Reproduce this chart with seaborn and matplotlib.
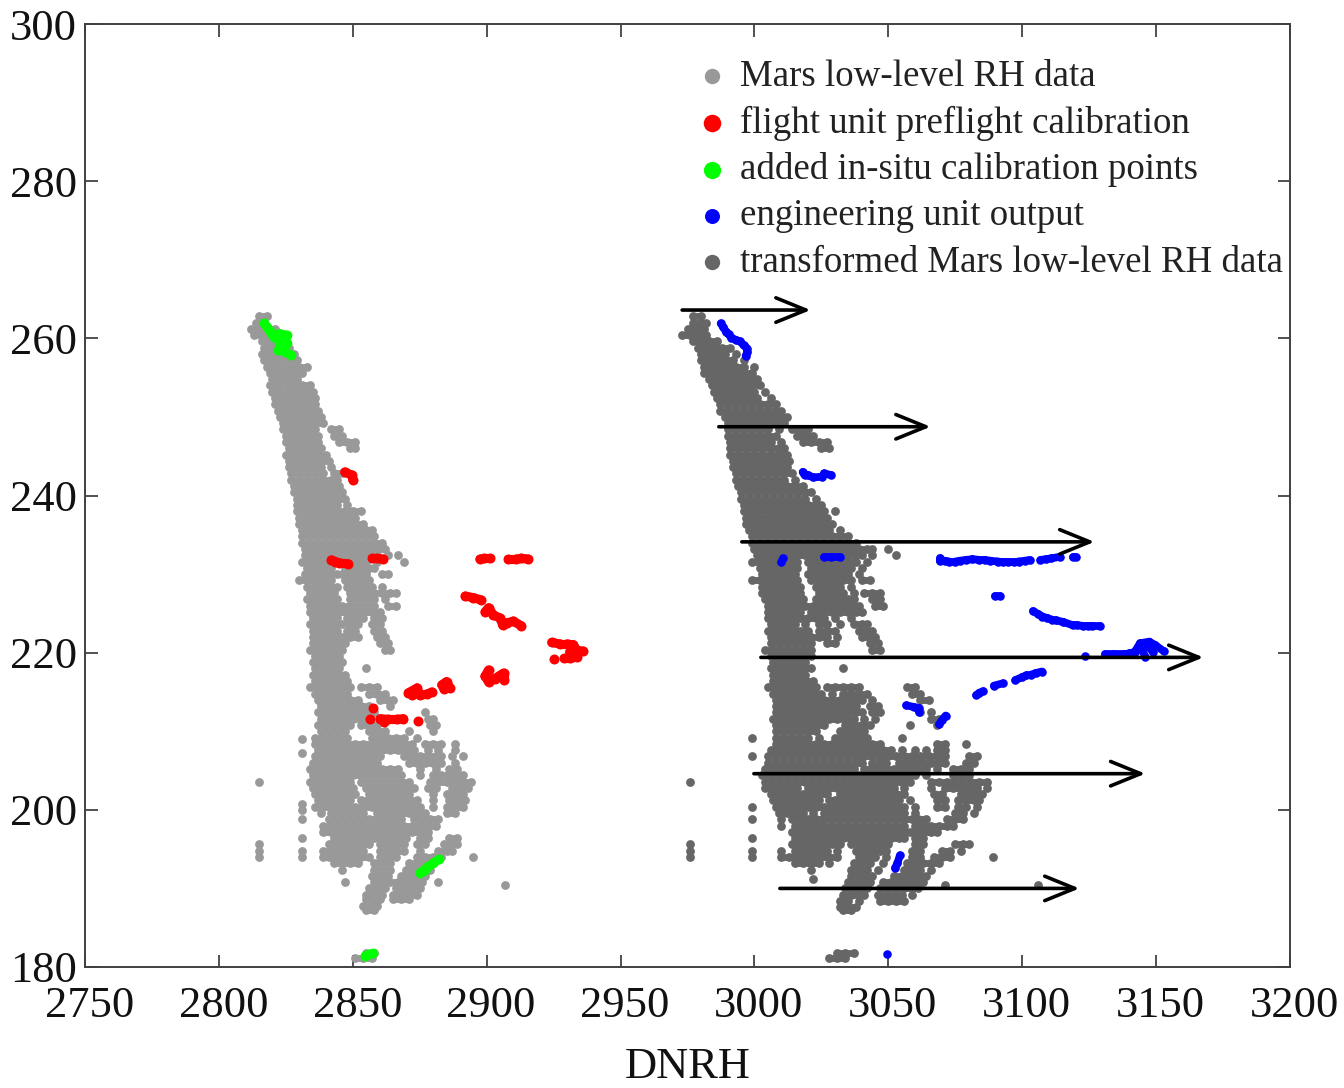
import matplotlib
matplotlib.use("Agg")
import matplotlib.pyplot as plt
from matplotlib.transforms import ScaledTranslation
import pandas as pd
import seaborn as sns

x_ticks = [2750, 2800, 2850, 2900, 2950, 3000, 3050, 3100, 3150, 3200]
y_ticks = [180, 200, 220, 240, 260, 280, 300]

# y level, then x readings at that level
gray_rows = [
(262.8,[2815,2818]),(262.0,[2814,2817]),(261.2,[2812,2815,2818,2821]),(260.4,[2813,2816,2819,2822]),
(259.6,[2816,2819,2822,2825]),(258.8,[2817,2820,2823,2826]),(258.0,[2816,2819,2822,2825,2828]),
(257.2,[2817,2820,2823,2826,2829]),(256.4,[2818,2821,2824,2827,2830,2833]),(255.6,[2819,2822,2825,2828,2831]),
(254.8,[2820,2823,2826,2829]),(254.0,[2819,2822,2825,2828,2831,2834]),(253.2,[2820,2823,2826,2829,2832,2835]),
(252.4,[2821,2824,2827,2830,2833,2836]),(251.6,[2821,2824,2827,2830,2833,2836]),(250.8,[2822,2825,2828,2831,2834,2837]),
(250.0,[2823,2826,2829,2832,2835,2838]),(249.2,[2824,2827,2830,2833,2836,2839]),
(248.4,[2824,2827,2830,2833,2836,2842,2845]),(247.6,[2825,2828,2831,2834,2837,2843,2846]),
(246.8,[2825,2828,2831,2834,2837,2845,2848,2851]),(246.0,[2826,2829,2832,2835,2838,2849,2851]),
(245.2,[2825,2828,2831,2834,2837,2840]),(244.4,[2826,2829,2832,2835,2838,2841]),(243.6,[2826,2829,2832,2835,2838,2842]),
(242.8,[2827,2830,2833,2836,2839,2843,2846]),(242.0,[2827,2830,2833,2836,2839,2842,2844]),
(241.2,[2828,2831,2834,2837,2840,2843,2845]),(240.4,[2828,2831,2834,2837,2840,2843,2846]),
(239.6,[2829,2832,2835,2838,2841,2844,2847]),(238.8,[2829,2832,2835,2838,2841,2844,2848]),
(238.0,[2829,2832,2835,2838,2841,2844,2847,2850,2853]),(237.2,[2830,2833,2836,2839,2842,2845,2848,2851]),
(236.4,[2830,2833,2836,2839,2842,2845,2848,2851,2854]),(235.6,[2831,2834,2837,2840,2843,2846,2849,2852,2855,2857]),
(234.8,[2831,2834,2837,2840,2843,2846,2849,2852,2855,2858]),(234.0,[2831,2834,2837,2840,2843,2846,2849,2852,2855,2858,2861]),
(233.2,[2832,2835,2838,2841,2844,2847,2850,2853,2856,2859,2862]),(232.4,[2832,2835,2838,2841,2844,2847,2850,2853,2856,2859,2863,2867]),
(231.6,[2831,2834,2837,2840,2843,2846,2849,2852,2855,2859,2869]),(230.8,[2833,2836,2839,2842,2847,2850,2853,2856,2858]),
(230.0,[2832,2835,2838,2841,2844,2846,2849,2852,2855,2861,2863]),(229.2,[2830,2833,2836,2839,2842,2847,2850,2853,2856]),
(228.4,[2833,2836,2839,2842,2844,2848,2851,2854,2857,2861]),(227.6,[2834,2837,2840,2843,2849,2852,2855,2858,2861,2864,2866]),
(226.8,[2833,2836,2839,2842,2844,2849,2852,2855,2858,2862]),(226.0,[2834,2837,2840,2843,2846,2849,2852,2855,2858,2863,2866]),
(225.2,[2834,2837,2840,2843,2845,2848,2851,2854,2857,2860]),(224.4,[2835,2838,2841,2844,2848,2851,2854,2858,2861]),
(223.6,[2834,2837,2840,2843,2846,2849,2852,2857,2860]),(222.8,[2835,2838,2841,2844,2848,2851,2858,2861]),
(222.0,[2835,2838,2841,2844,2846,2849,2852,2859,2862]),(221.2,[2835,2838,2841,2844,2847,2860,2863]),
(220.4,[2834,2837,2840,2843,2846,2862,2864]),(219.6,[2836,2839,2842,2845]),(218.8,[2835,2838,2841,2844,2846]),
(218.0,[2836,2839,2842,2845,2855]),(217.2,[2835,2838,2841,2844,2847]),(216.4,[2836,2839,2842,2845,2848]),
(215.6,[2834,2837,2840,2843,2846,2849,2853,2856,2859]),(214.8,[2836,2839,2842,2845,2848,2856,2859,2862]),
(214.0,[2837,2840,2843,2846,2849,2852,2860,2863,2865]),(213.2,[2838,2841,2844,2847,2850,2853,2856,2864]),
(212.4,[2837,2840,2843,2846,2849,2852,2855,2858,2877]),(211.6,[2838,2841,2844,2847,2850,2853,2856,2878,2880]),
(210.8,[2837,2840,2843,2846,2849,2853,2856,2859,2879,2881]),(210.0,[2838,2841,2844,2847,2856,2859,2862,2871,2880]),
(209.2,[2836,2839,2842,2845,2848,2857,2860,2863,2866,2869,2874]),(208.4,[2836,2839,2842,2845,2848,2851,2854,2857,2860,2863,2866,2869,2872,2877,2880,2883,2888]),
(207.6,[2837,2840,2843,2846,2849,2852,2855,2858,2861,2864,2867,2870,2873,2878,2882,2888]),
(206.8,[2836,2839,2842,2845,2848,2851,2854,2857,2860,2869,2872,2875,2878,2881,2883,2887,2891]),
(206.0,[2835,2838,2841,2844,2847,2850,2853,2856,2859,2871,2874,2877,2880,2883,2888]),
(205.2,[2834,2837,2840,2843,2846,2849,2852,2855,2858,2861,2864,2867,2875,2881,2886,2889]),
(204.4,[2835,2838,2841,2844,2847,2850,2853,2856,2859,2862,2865,2868,2875,2880,2883,2886,2889,2891]),
(203.6,[2834,2837,2840,2843,2846,2849,2853,2856,2859,2862,2865,2868,2871,2879,2882,2885,2888,2891,2894]),
(202.8,[2835,2838,2841,2844,2847,2850,2855,2858,2861,2864,2867,2870,2873,2878,2881,2887,2890,2893]),
(202.0,[2836,2839,2842,2845,2848,2851,2856,2859,2862,2865,2868,2871,2880,2885,2888,2891]),
(201.2,[2837,2840,2843,2846,2849,2853,2856,2859,2862,2865,2868,2871,2874,2880,2886,2889,2892]),
(200.4,[2836,2839,2842,2845,2848,2851,2854,2857,2860,2863,2866,2869,2872,2875,2880,2885,2888,2891]),
(199.6,[2838,2842,2845,2848,2851,2854,2859,2862,2865,2868,2871,2874,2877,2885,2888]),
(198.8,[2831,2841,2844,2847,2850,2853,2856,2859,2862,2865,2868,2873,2876,2879,2882]),
(198.0,[2839,2842,2845,2848,2851,2854,2857,2860,2863,2866,2869,2872,2875,2878,2881]),
(197.2,[2839,2842,2845,2848,2851,2854,2857,2860,2863,2866,2869,2872,2875,2878]),
(196.4,[2831,2843,2846,2849,2852,2855,2858,2861,2864,2867,2870,2875,2878,2886,2889]),
(195.6,[2815,2841,2844,2847,2850,2853,2856,2860,2863,2866,2869,2874,2877,2884,2887,2889]),
(194.8,[2815,2831,2839,2842,2845,2848,2851,2854,2860,2863,2866,2869,2875,2882,2885,2887]),
(194.0,[2815,2831,2839,2841,2844,2847,2850,2853,2856,2860,2863,2866,2874,2877,2880,2883,2895]),
(193.2,[2843,2846,2849,2852,2858,2861,2864,2871,2874,2877,2880]),(192.4,[2846,2858,2861,2864,2870,2873,2876,2879]),
(191.6,[2857,2860,2863,2868,2871,2874,2877]),(190.8,[2847,2858,2861,2864,2867,2870,2873,2876,2882]),
(190.4,[2907]),(190.0,[2856,2859,2862,2866,2869,2872,2875]),(189.2,[2855,2858,2861,2865,2868,2871,2874]),
(188.6,[2855,2858,2860,2865,2868,2871]),(187.8,[2854,2857,2859]),(187.2,[2855,2858]),
(181.8,[2855,2858]),(181.2,[2851,2854,2857]),
(209.0,[2831]),(207.2,[2831]),(203.5,[2815]),(200.7,[2831]),(200.0,[2831]),
]
dark_rows = [
(262.8,[2977,2980]),(262.0,[2977,2980,2982]),(261.2,[2975,2978,2981]),(260.4,[2973,2976,2979,2982]),
(259.6,[2977,2980,2983,2986]),(258.8,[2979,2982,2985,2988,2991]),(258.0,[2980,2983,2986,2989,2993]),
(257.2,[2980,2983,2986,2989,2992,2996]),(256.4,[2981,2984,2987,2990,2993,2996,3000]),(255.6,[2981,2984,2987,2990,2993,2996,2999]),
(254.8,[2983,2986,2989,2992,2995,2998,3001]),(254.0,[2984,2987,2990,2993,2996,2999,3002]),
(253.2,[2985,2988,2991,2994,2997,3000,3004]),(252.4,[2986,2989,2992,2995,2998,3001,3006]),
(251.6,[2987,2990,2993,2996,2999,3002,3005,3008]),(250.8,[2987,2990,2993,2996,2999,3002,3005,3008,3010]),
(250.0,[2989,2992,2995,2998,3001,3004,3007,3010,3012]),(249.2,[2990,2993,2996,2999,3002,3005,3008,3011]),
(248.4,[2990,2993,2996,2999,3002,3005,3009,3014,3017,3020]),(247.6,[2990,2993,2996,2999,3002,3005,3008,3016,3019,3022]),
(246.8,[2991,2994,2997,3000,3003,3006,3010,3018,3021,3024,3027]),(246.0,[2991,2994,2997,3000,3003,3006,3009,3011,3025,3028]),
(245.2,[2991,2994,2997,3000,3003,3006,3009,3012]),(244.4,[2992,2995,2998,3001,3004,3007,3010,3013]),
(243.6,[2992,2995,2998,3001,3004,3007,3010,3012]),(242.8,[2993,2996,2999,3002,3005,3008,3011,3014]),
(242.0,[2993,2996,2999,3002,3005,3008,3011,3015]),(241.2,[2994,2997,3000,3003,3006,3009,3012,3015,3018]),
(240.4,[2995,2998,3001,3004,3007,3010,3013,3016,3019,3021]),(239.6,[2995,2998,3001,3004,3007,3010,3013,3016,3019,3023]),
(238.8,[2996,2999,3002,3005,3008,3011,3014,3017,3020,3023,3025]),(238.0,[2996,2999,3002,3005,3008,3011,3014,3017,3020,3023,3026,3030]),
(237.2,[2997,3000,3003,3006,3009,3012,3015,3018,3021,3024,3027]),(236.4,[2997,3000,3003,3006,3009,3012,3015,3018,3021,3024,3027,3029]),
(235.6,[2998,3001,3004,3007,3010,3013,3016,3019,3022,3025,3028,3032]),(234.8,[2999,3002,3005,3008,3011,3014,3017,3020,3023,3026,3029,3032,3035]),
(234.0,[2999,3002,3005,3008,3011,3014,3017,3020,3023,3026,3029,3032,3035,3038]),
(233.2,[3000,3003,3006,3009,3012,3015,3018,3021,3024,3027,3030,3033,3036,3039,3042,3044,3050]),
(232.4,[3001,3004,3007,3010,3013,3016,3019,3022,3025,3028,3031,3034,3037,3040,3044,3053]),
(231.6,[2999,3002,3005,3008,3011,3014,3016,3020,3023,3026,3029,3032,3035,3038,3042]),
(230.8,[3002,3005,3008,3011,3014,3016,3021,3024,3027,3030,3033,3036,3040]),
(230.0,[3003,3006,3009,3012,3015,3020,3023,3026,3029,3032,3035,3039]),
(229.2,[2999,3002,3005,3008,3011,3014,3016,3021,3024,3027,3030,3033,3036,3040,3043]),
(228.4,[3003,3006,3009,3012,3015,3017,3023,3026,3029,3032,3036]),
(227.6,[3003,3006,3009,3012,3015,3017,3024,3027,3030,3033,3037,3041,3044,3047]),
(226.8,[3004,3007,3010,3013,3016,3018,3023,3026,3029,3032,3035,3037,3044,3047]),
(226.0,[3005,3008,3011,3014,3017,3019,3022,3025,3028,3031,3034,3037,3039,3045,3048]),
(225.2,[3005,3008,3011,3014,3017,3021,3023,3026,3029,3032,3035,3038,3040]),
(224.4,[3005,3008,3011,3014,3017,3020,3023,3026,3030,3036]),(223.6,[3006,3009,3012,3015,3019,3024,3027,3032,3037,3040,3042]),
(222.8,[3005,3008,3011,3014,3017,3020,3024,3027,3030,3039,3042,3044]),(222.0,[3006,3009,3012,3015,3018,3021,3024,3027,3031,3040,3043,3045]),
(221.2,[3006,3009,3012,3015,3018,3021,3027,3030,3043,3046]),(220.4,[3004,3007,3010,3013,3016,3019,3021,3044,3047]),
(219.6,[3006,3009,3012,3015,3018,3021]),(218.8,[3007,3010,3013,3016,3019]),(218.0,[3006,3009,3012,3015,3018,3021,3033]),
(217.2,[3007,3010,3013,3016,3019]),(216.4,[3007,3010,3013,3016,3019,3022]),
(215.6,[3005,3008,3011,3014,3017,3020,3023,3027,3030,3033,3036,3039,3057,3060]),
(214.8,[3007,3010,3013,3016,3019,3022,3025,3029,3033,3036,3039,3042,3059,3062]),
(214.0,[3008,3011,3014,3017,3020,3023,3026,3029,3032,3035,3038,3040,3044,3062,3065]),
(213.2,[3008,3011,3014,3017,3020,3023,3026,3029,3032,3035,3038,3043,3046]),
(212.4,[3008,3011,3014,3017,3020,3023,3026,3029,3032,3035,3038,3040,3044,3047,3062,3066]),
(211.6,[3007,3010,3013,3016,3019,3022,3025,3028,3031,3034,3037,3041,3045,3066,3069]),
(210.8,[3008,3011,3014,3017,3020,3023,3026,3034,3037,3040,3043,3058,3068]),
(210.0,[3008,3011,3014,3017,3020,3023,3032,3035,3038,3041]),
(209.2,[2999,3008,3011,3014,3017,3020,3024,3030,3033,3036,3039,3042,3055]),
(208.4,[3008,3011,3014,3017,3020,3023,3026,3029,3032,3035,3038,3041,3044,3047,3068,3071,3079]),
(207.6,[3006,3009,3012,3015,3018,3021,3024,3027,3030,3033,3036,3039,3042,3045,3048,3051,3055,3060,3064,3068,3071]),
(206.8,[2999,3005,3008,3011,3014,3017,3020,3023,3026,3029,3032,3035,3038,3041,3044,3047,3050,3053,3056,3059,3062,3065,3068,3071,3080,3083]),
(206.0,[3005,3008,3011,3014,3017,3020,3023,3026,3029,3032,3035,3038,3040,3044,3047,3049,3054,3057,3060,3063,3066,3069,3071,3079,3082]),
(205.2,[3004,3007,3010,3013,3016,3019,3022,3025,3028,3031,3034,3037,3041,3043,3046,3049,3052,3055,3058,3061,3064,3068,3074,3077,3080]),
(204.4,[3003,3006,3009,3012,3015,3018,3021,3024,3027,3030,3033,3036,3039,3042,3045,3048,3051,3054,3057,3060,3064,3074,3077,3080]),
(203.6,[3004,3007,3010,3013,3016,3019,3022,3025,3028,3031,3034,3037,3040,3043,3046,3049,3052,3055,3058,3066,3069,3072,3075,3078,3081,3084,3087,2976]),
(202.8,[3004,3007,3010,3013,3016,3020,3022,3025,3028,3031,3034,3037,3040,3043,3046,3049,3052,3056,3066,3071,3074,3077,3080,3083,3087]),
(202.0,[3006,3009,3012,3015,3018,3021,3024,3027,3032,3035,3038,3041,3044,3047,3050,3053,3056,3067,3070,3077,3080,3083,3085]),
(201.2,[3007,3010,3013,3016,3018,3021,3024,3028,3030,3033,3036,3039,3042,3045,3048,3051,3054,3058,3068,3071,3076,3079,3082,3084]),
(200.4,[2999,3008,3011,3014,3017,3020,3023,3026,3029,3032,3035,3038,3041,3044,3047,3050,3053,3056,3060,3068,3071,3076,3079,3083]),
(199.6,[3009,3012,3015,3018,3022,3026,3029,3032,3035,3038,3041,3044,3047,3050,3053,3056,3060,3075,3078,3082]),
(198.8,[2999,3010,3014,3017,3020,3023,3026,3029,3032,3035,3038,3041,3044,3047,3050,3053,3056,3059,3061,3064,3072,3075,3078]),
(198.0,[3010,3015,3018,3021,3024,3026,3029,3032,3035,3038,3041,3044,3047,3050,3053,3056,3060,3063,3066,3069,3072,3074]),
(197.2,[3014,3017,3020,3023,3026,3029,3032,3035,3038,3041,3044,3047,3050,3053,3056,3058,3060,3063,3066,3068]),
(196.4,[2999,3015,3018,3021,3024,3027,3030,3033,3036,3039,3042,3045,3048,3051,3054,3056,3060,3063]),
(195.6,[2976,3014,3017,3020,3023,3026,3029,3032,3036,3039,3042,3045,3048,3050,3060,3063,3075,3078,3080]),
(194.8,[2976,2999,3010,3015,3018,3021,3024,3027,3031,3038,3041,3044,3047,3049,3059,3062,3070,3073,3077]),
(194.0,[2976,2999,3010,3013,3016,3019,3022,3025,3028,3031,3039,3042,3045,3049,3059,3062,3067,3070,3073,3089]),
(193.2,[3015,3018,3021,3024,3028,3037,3040,3043,3048,3057,3060,3063,3066,3069]),
(192.4,[3021,3036,3039,3042,3046,3056,3059,3062,3066]),(191.6,[3036,3039,3042,3044,3052,3055,3058,3061,3064]),
(191.2,[3022]),(190.8,[3035,3038,3041,3043,3048,3051,3054,3057,3060,3063]),(190.4,[3071,3106]),
(190.0,[3034,3037,3040,3042,3047,3050,3053,3056,3059,3061]),(189.2,[3033,3036,3039,3041,3046,3049,3052,3055,3059]),
(188.4,[3032,3035,3039,3047,3050,3053,3056]),(187.6,[3032,3035,3038]),(187.2,[3033,3036]),
(181.8,[3031,3034,3037]),(181.2,[3028,3031,3034]),
]
red_x = [2847,2849.6,2850,2842,2845,2848.4,2843.5,2857,2859,2861.4,2897.5,2899,2901.3,2908,2911,2913,2915.6,
2892,2895,2898,2899.4,2900.7,2902.5,2905,2906,2907.5,2910,2913,2924.3,2927.4,2930,2932.4,2933.6,2936,2925,2928.7,2931,2933.6,
2931,2900.7,2899.4,2900.7,2903,2906.3,2906.3,2870.8,2874,2875,2877.6,2879.5,2872,2883.2,2885,2886.3,2884,
2857.5,2856.5,2860.2,2863.3,2866.4,2868.9,2861.5,2874.3]
red_y = [243,242.6,242,231.8,231.4,231.3,231.6,232,232,231.9,231.9,232,232,231.9,231.9,232,231.9,
227.2,227,226.7,225.2,225.7,224.8,224.4,223.5,223.8,224,223.4,221.3,221.1,221.1,221,220.3,220.2,219.2,219.3,219.3,219.4,
220.1,217.8,217,216.3,216.7,217.4,216.5,214.9,215.5,214.6,214.7,215,214.6,215.9,216.3,215.5,215.4,
212.9,211.6,211.6,211.5,211.5,211.6,211.2,211.3]
green_x = [2817,2818,2819,2820.4,2822.8,2825.3,2822.5,2825.3,2822.2,2824.7,2826.8,2875,2877,2878.2,2880,2882.2,2854.6,2856,2857.7]
green_y = [261.9,261.4,260.9,260.2,260.6,260.4,259.4,259.4,258.5,258.3,257.9,192,192.4,192.8,193.2,193.7,181.4,181.6,181.75]
blue_x = [2987.4,2988.4,2989.4,2990.4,2991.4,2993,2994.7,2996,2997.4,2997.4,2996.7,3018,3018.7,3020,3022,3025.4,3026,3028.7,
3010.7,3010,3026,3028.7,3032,3069.4,3069.4,3071,3072.8,3075,3076.8,3079,3081.4,3084,3086,3088,3090.8,3093,3094.8,3097,3098.8,3101,3102.8,3106.8,3109,3110.8,3114,3118.8,3120,
3089.8,3091.7,3104,3106,3107.5,3109.4,3111,3112.8,3115.4,3118.8,3120.5,3122.8,3124.5,3126,3129.2,
3123.5,3130.8,3134.4,3138,3140,3142,3144,3147.5,3149.5,3152.8,3146,3144.8,3148.8,3147,
3107.4,3105,3103.4,3101.5,3100,3097.4,3092.8,3089.4,3085.4,3084,3082.8,
3056.7,3059.4,3061.4,3061.4,3071.4,3070,3069,3054.3,3053.4,3052.5,3049.4]
blue_y = [261.9,261.4,260.85,260.5,260.1,259.8,259.6,259.1,258.7,258.2,257.8,243,242.6,242.6,242.3,242.4,242.8,242.6,
232,231.5,232.2,232.2,232.2,232,231.7,231.7,231.6,231.6,231.7,231.8,231.9,231.8,231.8,231.7,231.6,231.5,231.5,231.5,231.6,231.7,231.8,231.8,231.9,232,232.2,232.2,232.2,
227.2,227.2,225.3,224.9,224.6,224.4,224.2,224.1,223.9,223.5,223.5,223.4,223.4,223.4,223.4,
219.6,219.8,219.8,219.8,219.9,220.1,221.2,221.4,221,220.2,219.5,220.3,220.1,220.8,
217.6,217.4,217.2,217.1,216.9,216.5,216.1,215.8,215.1,214.9,214.6,
213.3,213.1,212.9,212.5,212,211.4,210.9,194.2,193.2,192.6,181.6]
arrow_start_x = [2973, 2986.7, 2995.3, 3002.4, 2999.8, 3009.5]
arrow_end_x = [3021, 3065.8, 3127, 3167.7, 3146, 3121.4]
arrow_y = [263.6, 248.75, 234.1, 219.4, 204.6, 190]


def cloud(rows):
    return pd.DataFrame({"x": [x for _, xs in rows for x in xs],
                         "y": [y for y, xs in rows for _ in xs]})


def fill_rows(ax, rows, color):
    """Close the small gaps between neighbouring readings of one row."""
    for y, xs in rows:
        xs = sorted(xs)
        for a, b in zip(xs, xs[1:]):
            if b - a <= 3.6:
                ax.plot([a, b], [y, y], color=color, lw=4.9, solid_capstyle="butt", zorder=2)


def bridge(ax, xs, ys, color, lw):
    """Join consecutive readings of a dense trace."""
    for i in range(len(xs) - 1):
        if abs(xs[i + 1] - xs[i]) <= 3.6 and abs(ys[i + 1] - ys[i]) <= 1.2:
            ax.plot(xs[i:i + 2], ys[i:i + 2], color=color, lw=lw, solid_capstyle="round", zorder=3)


sns.set_theme(style="white")
plt.rcParams["font.family"] = ["Liberation Serif", "DejaVu Serif"]

fig = plt.figure(figsize=(13.44, 10.88), dpi=100)
ax = fig.add_axes([85/1344, 121/1088, 1205/1344, 943/1088])

sns.scatterplot(data=cloud(gray_rows), x="x", y="y", ax=ax, color="#999999", s=40, linewidth=0,
                label="Mars low-level RH data", zorder=2)
sns.scatterplot(x=red_x, y=red_y, ax=ax, color="#FF0000", s=52, linewidth=0,
                label="flight unit preflight calibration", zorder=3)
sns.scatterplot(x=green_x, y=green_y, ax=ax, color="#00FF00", s=50, linewidth=0,
                label="added in-situ calibration points", zorder=3)
sns.scatterplot(x=blue_x, y=blue_y, ax=ax, color="#0000FF", s=38, linewidth=0,
                label="engineering unit output", zorder=3)
sns.scatterplot(data=cloud(dark_rows), x="x", y="y", ax=ax, color="#666666", s=40, linewidth=0,
                label="transformed Mars low-level RH data", zorder=2)
fill_rows(ax, gray_rows, "#999999")
fill_rows(ax, dark_rows, "#666666")
bridge(ax, red_x, red_y, "#FF0000", 6.6)
bridge(ax, green_x, green_y, "#00FF00", 6.4)
bridge(ax, blue_x, blue_y, "#0000FF", 5.6)

for x0, x1, y in zip(arrow_start_x, arrow_end_x, arrow_y):
    ax.annotate("", xy=(x1, y), xytext=(x0, y), zorder=5,
                arrowprops=dict(arrowstyle="->,head_length=1.35,head_width=0.55", color="black",
                                lw=2.6, mutation_scale=16, shrinkA=0, shrinkB=0))

ax.set_xlim(2750, 3200)
ax.set_ylim(180, 300)
ax.set_xticks(x_ticks)
ax.set_yticks(y_ticks)
ax.set_xlabel("DNRH", fontsize=32, color="#111111", labelpad=15)
ax.set_ylabel("")
ax.tick_params(axis="both", direction="in", length=9, width=1.2, color="#333333",
               top=True, right=True, bottom=True, left=True, labelsize=32, labelcolor="#111111")
ax.tick_params(axis="x", pad=14)
ax.tick_params(axis="y", pad=6)
offset = ScaledTranslation(4.5 / 100, 0, fig.dpi_scale_trans)
for lab in ax.get_xticklabels():
    lab.set_transform(lab.get_transform() + offset)
for s in ax.spines.values():
    s.set_visible(True)
    s.set_color("#404040")
    s.set_linewidth(1.4)

ax.legend(loc="upper left", bbox_to_anchor=(0.49, 0.9625), frameon=False, fontsize=26.6,
          markerscale=1.75, labelspacing=0.315, handletextpad=-0.25, borderpad=0, borderaxespad=0,
          labelcolor="#222222")

fig.savefig("out.png", dpi=100)
